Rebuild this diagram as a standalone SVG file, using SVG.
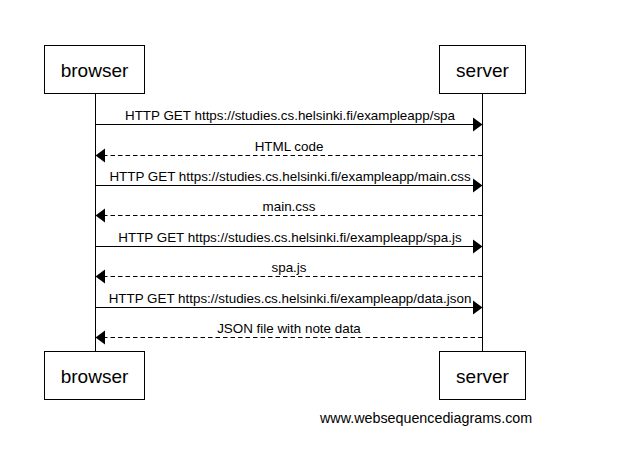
<svg xmlns="http://www.w3.org/2000/svg" width="630" height="463" viewBox="0 0 630 463">
<style>
.box{fill:#fff;stroke:#000;stroke-width:1}
.life{stroke:#000;stroke-width:1;fill:none}
.msg{stroke:#000;stroke-width:1;fill:none}
.ret{stroke:#000;stroke-width:1;fill:none;stroke-dasharray:4.5,3}
.head{fill:#000;stroke:none}
.lbl{font-family:"Liberation Sans",Arial,sans-serif;font-size:13.4px;fill:#000;text-anchor:middle}
.name{font-family:"Liberation Sans",Arial,sans-serif;font-size:19px;fill:#000;text-anchor:middle}
.wm{font-family:"Liberation Sans",Arial,sans-serif;font-size:14.3px;fill:#000}
</style>
<rect width="630" height="463" fill="#fff"/>
<g id="lifelines">
<line class="life" x1="95.5" y1="94" x2="95.5" y2="351"/>
<line class="life" x1="482.5" y1="94" x2="482.5" y2="351"/>
</g>
<g id="browser">
<rect class="box" x="44.5" y="45.5" width="100" height="48"/>
<text class="name" x="94.5" y="77">browser</text>
</g>
<g id="server">
<rect class="box" x="439.5" y="45.5" width="86" height="48"/>
<text class="name" x="482.5" y="77">server</text>
</g>
<g id="browser-bottom">
<rect class="box" x="44.5" y="351.5" width="100" height="48"/>
<text class="name" x="94.5" y="383">browser</text>
</g>
<g id="server-bottom">
<rect class="box" x="439.5" y="351.5" width="86" height="48"/>
<text class="name" x="482.5" y="383">server</text>
</g>
<g id="connectors">
<line class="msg" x1="95.5" y1="124.5" x2="474" y2="124.5"/>
<polygon class="head" points="482.5,124.5 473,117.5 473,131.5"/>
<text class="lbl" x="290" y="120">HTTP GET https://studies.cs.helsinki.fi/exampleapp/spa</text>
<line class="ret" x1="482.5" y1="155.5" x2="104" y2="155.5"/>
<polygon class="head" points="95.5,155.5 105,148.5 105,162.5"/>
<text class="lbl" x="289" y="151">HTML code</text>
<line class="msg" x1="95.5" y1="185.5" x2="474" y2="185.5"/>
<polygon class="head" points="482.5,185.5 473,178.5 473,192.5"/>
<text class="lbl" x="290" y="181">HTTP GET https://studies.cs.helsinki.fi/exampleapp/main.css</text>
<line class="ret" x1="482.5" y1="215.5" x2="104" y2="215.5"/>
<polygon class="head" points="95.5,215.5 105,208.5 105,222.5"/>
<text class="lbl" x="289" y="211">main.css</text>
<line class="msg" x1="95.5" y1="246.5" x2="474" y2="246.5"/>
<polygon class="head" points="482.5,246.5 473,239.5 473,253.5"/>
<text class="lbl" x="290" y="242">HTTP GET https://studies.cs.helsinki.fi/exampleapp/spa.js</text>
<line class="ret" x1="482.5" y1="276.5" x2="104" y2="276.5"/>
<polygon class="head" points="95.5,276.5 105,269.5 105,283.5"/>
<text class="lbl" x="289" y="272">spa.js</text>
<line class="msg" x1="95.5" y1="307.5" x2="474" y2="307.5"/>
<polygon class="head" points="482.5,307.5 473,300.5 473,314.5"/>
<text class="lbl" x="290" y="303">HTTP GET https://studies.cs.helsinki.fi/exampleapp/data.json</text>
<line class="ret" x1="482.5" y1="337.5" x2="104" y2="337.5"/>
<polygon class="head" points="95.5,337.5 105,330.5 105,344.5"/>
<text class="lbl" x="289" y="333">JSON file with note data</text>
</g>
<text class="wm" x="320" y="423">www.websequencediagrams.com</text>
</svg>
